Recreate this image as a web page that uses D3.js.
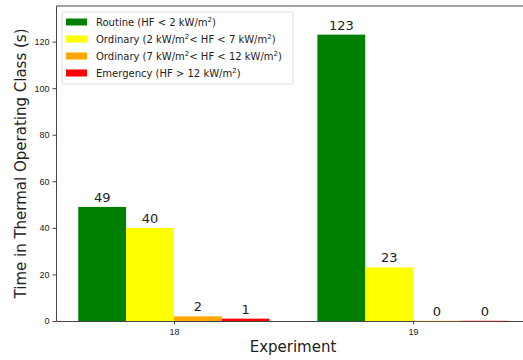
<!DOCTYPE html>
<html>
<head>
<meta charset="utf-8">
<script src="https://cdn.jsdelivr.net/npm/d3@7"></script>
<style>
  body { margin: 0; background: #fff; }
  svg { font-family: "DejaVu Sans", sans-serif; }
</style>
</head>
<body>
<div id="chart"></div>
<script>
const experiments = [18, 19];
const classes = ["Routine", "Ordinary (2-7)", "Ordinary (7-12)", "Emergency"];
const routine = [49, 123];
const ordinaryLow = [40, 23];
const ordinaryHigh = [2, 0];
const emergency = [1, 0];
const yTicks = [0, 20, 40, 60, 80, 100, 120];
const colors = ["#008000", "#ffff00", "#ffa500", "#ff0000"];

const series = [routine, ordinaryLow, ordinaryHigh, emergency];

// legend labels with superscript pieces: [text, isSup]
const legendLabels = [
  [["Routine (HF < 2 kW/m", 0], ["2", 1], [")", 0]],
  [["Ordinary (2 kW/m", 0], ["2", 1], ["< HF < 7 kW/m", 0], ["2", 1], [")", 0]],
  [["Ordinary (7 kW/m", 0], ["2", 1], ["< HF < 12 kW/m", 0], ["2", 1], [")", 0]],
  [["Emergency (HF > 12 kW/m", 0], ["2", 1], [")", 0]]
];

const margin = {top: 6, right: -8, bottom: 39, left: 56},
      W = 523, H = 360,
      width = W - margin.left - margin.right,
      height = H - margin.top - margin.bottom;

const svg = d3.select("#chart")
              .append("svg")
              .attr("width", W)
              .attr("height", H);

const g = svg.append("g")
             .attr("transform", `translate(${margin.left},${margin.top})`);

const barW = 0.2;

const x = d3.scaleLinear()
            .domain([17.507, 19.493])
            .range([0, width]);

const y = d3.scaleLinear()
            .domain([0, 135.3])
            .range([height, 0]);

// bars
series.forEach((vals, i) => {
  const off = -0.4 + i * barW;
  g.selectAll(".bar" + i)
   .data(vals.map((v, j) => ({exp: experiments[j], v})))
   .enter()
   .append("rect")
   .attr("x", d => x(d.exp + off))
   .attr("y", d => y(d.v))
   .attr("width", x(barW) - x(0))
   .attr("height", d => height - y(d.v))
   .attr("fill", colors[i]);

  g.selectAll(".label" + i)
   .data(vals.map((v, j) => ({exp: experiments[j], v})))
   .enter()
   .append("text")
   .attr("x", d => x(d.exp + off + barW / 2))
   .attr("y", d => y(d.v) - 5)
   .attr("text-anchor", "middle")
   .style("font-size", "13px")
   .attr("fill", "#222")
   .text(d => d.v);
});

// axes
const xAxis = g.append("g")
   .attr("transform", `translate(0,${height})`)
   .call(d3.axisBottom(x).tickValues(experiments).tickFormat(d3.format("d")).tickSize(3.5).tickSizeOuter(0));
xAxis.attr("font-size", null);
xAxis.selectAll("text").style("font-size", "9px").attr("fill", "#222").attr("dy", "0.85em");

const yAxis = g.append("g")
   .call(d3.axisLeft(y).tickValues(yTicks).tickSize(3.5).tickSizeOuter(0));
yAxis.attr("font-size", null);
yAxis.selectAll("text").style("font-size", "9px").attr("fill", "#222");

g.selectAll(".domain").attr("stroke", "#444");
g.selectAll(".tick line").attr("stroke", "#444");

// zero-height bars show as a thin coloured line on the axis
series.forEach((vals, i) => {
  const off = -0.4 + i * barW;
  g.selectAll(".zero" + i)
   .data(vals.map((v, j) => ({exp: experiments[j], v})).filter(d => d.v === 0))
   .enter()
   .append("line")
   .attr("x1", d => x(d.exp + off))
   .attr("x2", d => x(d.exp + off + barW))
   .attr("y1", height).attr("y2", height)
   .attr("stroke", colors[i])
   .attr("stroke-opacity", 0.4);
});

// top spine
g.append("line")
 .attr("x1", 0).attr("x2", width)
 .attr("y1", 0).attr("y2", 0)
 .attr("stroke", "#444");

// axis titles
svg.append("text")
   .attr("x", 293)
   .attr("y", 352)
   .attr("text-anchor", "middle")
   .style("font-size", "15px")
   .attr("fill", "#222")
   .text("Experiment");

svg.append("text")
   .attr("transform", `translate(26,${margin.top + height / 2}) rotate(-90)`)
   .attr("text-anchor", "middle")
   .style("font-size", "15px")
   .attr("fill", "#222")
   .text("Time in Thermal Operating Class (s)");

// legend
const legend = svg.append("g").attr("transform", "translate(62,12)");
legend.append("rect")
      .attr("width", 231)
      .attr("height", 72)
      .attr("rx", 2)
      .attr("fill", "#fff")
      .attr("fill-opacity", 0.8)
      .attr("stroke", "#ddd");

legendLabels.forEach((parts, i) => {
  const row = legend.append("g").attr("transform", `translate(0,${10 + i * 17})`);
  row.append("rect")
     .attr("x", 4).attr("y", -3.5)
     .attr("width", 21).attr("height", 7)
     .attr("fill", colors[i]);
  const t = row.append("text")
     .attr("x", 34).attr("y", 4)
     .style("font-size", "10px")
     .attr("fill", "#222");
  parts.forEach(([s, sup]) => {
    t.append("tspan")
     .attr("baseline-shift", sup ? "super" : null)
     .style("font-size", sup ? "7px" : null)
     .text(s);
  });
});
</script>
</body>
</html>
